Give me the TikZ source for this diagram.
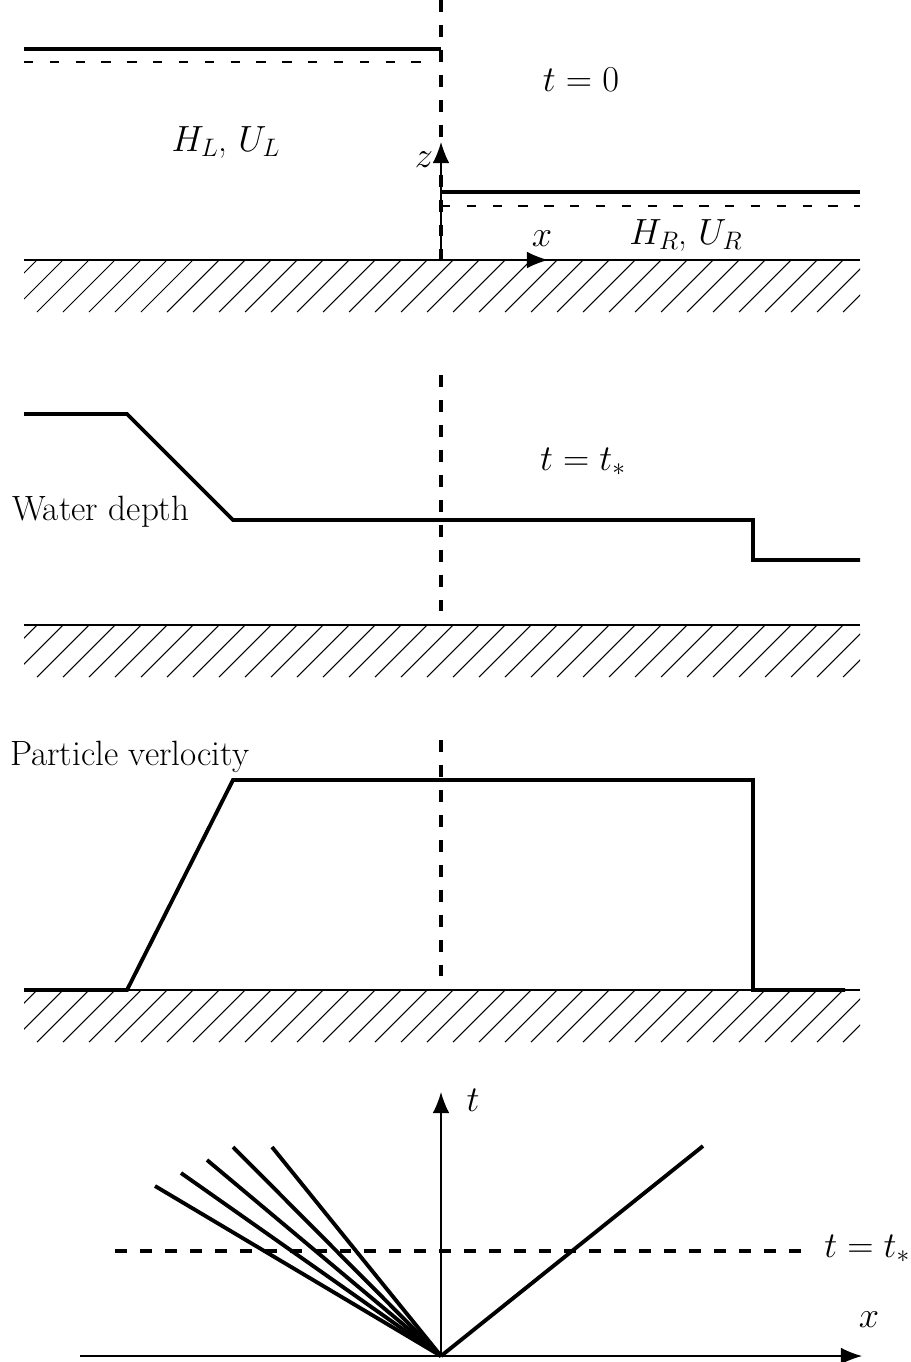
\documentclass[tikz,border=0pt]{standalone}
\usepackage{amsmath}
\usepackage{tikz}
\usetikzlibrary{arrows.meta}

\tikzset{
  surf/.style={line width=2.2pt, line join=miter},
  still/.style={line width=0.6pt, dash pattern=on 5.3pt off 9.4pt},
  cut/.style={line width=2pt, dash pattern=on 6.8pt off 7.4pt},
  ground/.style={line width=0.8pt},
  hatch/.style={line width=0.6pt},
  axis/.style={line width=0.8pt, -{Latex[length=12pt,width=9.5pt]}},
  lbl/.style={font=\fontsize{20}{24}\selectfont, inner sep=1pt},
}

\begin{document}
\begin{tikzpicture}[x=0.02cm, y=-0.02cm]
  \useasboundingbox (0,0) rectangle (911,1362);

  % bed with hatching, one per panel
  \foreach \yb in {260, 625, 990} {
    \begin{scope}
      \clip (24,\yb) rectangle (860,\yb+52);
      \foreach \a in {11,37,...,930}
        \draw[hatch] (\a,\yb) -- (\a-52,\yb+52);
    \end{scope}
    \draw[ground] (24,\yb) -- (860,\yb);
  }

  % ---- t = 0
  \draw[cut] (441,0) -- (441,260);
  \draw[surf] (24,49) -- (441,49);
  \draw[still] (24,62) -- (432,62);
  \draw[surf] (441,192) -- (860,192);
  \draw[still] (441,206) -- (860,206);
  \coordinate (o1) at (441,260);
  \coordinate (ztip) at (441,142);
  \coordinate (xtip) at (548,260);
  \draw[axis] (o1) -- (ztip);
  \draw[axis] (o1) -- (xtip);
  \node[lbl] (zlab) at (424,160) {$z$};
  \node[lbl] (xlab) at (542,239) {$x$};
  \node[lbl] (tzero) at (581,80) {$t=0$};
  \node[lbl] (left) at (226,142) {$H_L$, $U_L$};
  \node[lbl] (right) at (686,235) {$H_R$, $U_R$};

  % ---- t = t_*, depth
  \draw[cut] (441,375) -- (441,625);
  \draw[surf] (24,414) -- (127,414) -- (233,520) -- (753,520)
    -- (753,560) -- (860,560);
  \node[lbl] (tstar) at (583,462) {$t=t_*$};
  \node[lbl, anchor=west] (depth) at (10,512) {Water depth};

  % ---- velocity
  \draw[cut] (441,740) -- (441,990);
  \draw[surf] (24,990) -- (127,990) -- (233,780) -- (753,780)
    -- (753,990) -- (845,990);
  \node[lbl, anchor=west] (vel) at (8,757) {Particle verlocity};

  % ---- x-t plane
  \coordinate (o4) at (441,1356);
  \coordinate (ttip) at (441,1092);
  \coordinate (xend) at (862,1356);
  \coordinate (xbeg) at (80,1356);
  \draw[axis] (xbeg) -- (xend);
  \draw[axis] (o4) -- (ttip);
  \node[lbl] (tlab) at (473,1100) {$t$};
  \node[lbl] (xlab4) at (869,1320) {$x$};
  \node[lbl, anchor=west, inner sep=0pt] (tline) at (824,1249) {$t=t_*$};
  \draw[cut] (115,1251) -- (810,1251);
  \foreach \px/\py in {155/1186, 181/1173, 207/1160, 233/1147, 272/1147}
    \draw[surf, line join=round] (o4) -- (\px,\py);
  \draw[surf] (o4) -- (703,1146);
\end{tikzpicture}
\end{document}
